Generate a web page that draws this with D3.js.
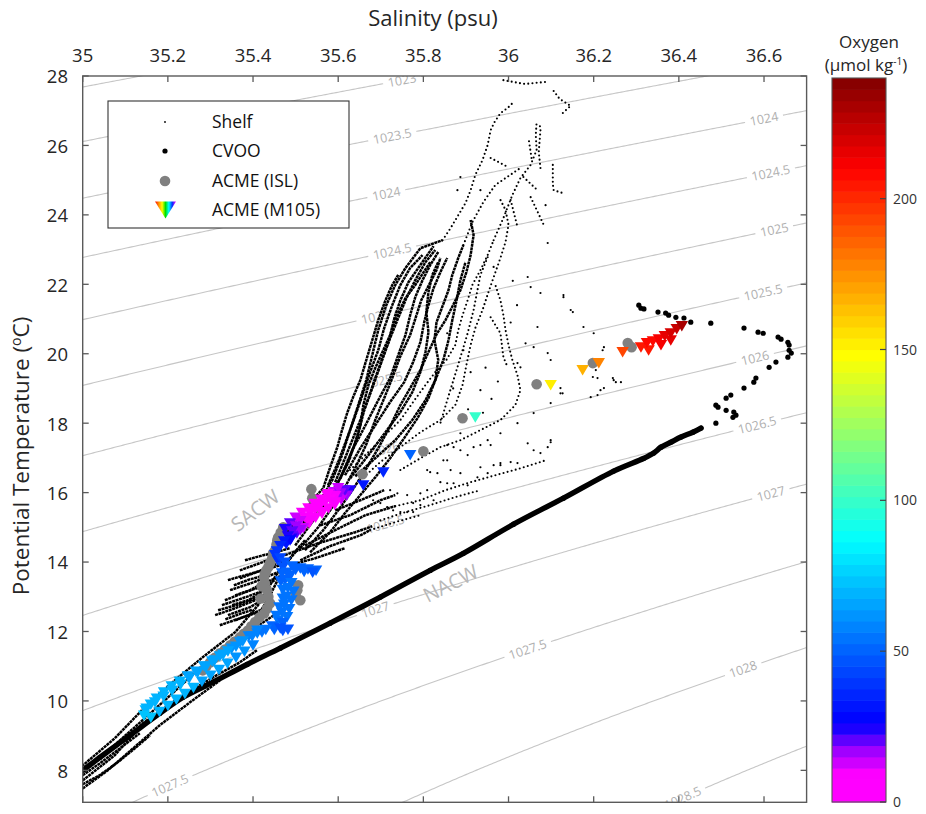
<!DOCTYPE html>
<html><head><meta charset="utf-8">
<script src="https://cdn.jsdelivr.net/npm/d3@7"></script>
<style>
body{margin:0;background:#fff;}
svg text{font-family:"Open Sans",sans-serif;}
</style></head><body>
<svg id="chart" width="926" height="814"></svg>
<script>
// ---------------- data ----------------
const xTicks = [35,35.2,35.4,35.6,35.8,36,36.2,36.4,36.6];
const yTicks = [8,10,12,14,16,18,20,22,24,26,28];
const oxygenTicks = [0,50,100,150,200];
const densityLevels = [1022.5,1023,1023.5,1024,1024.5,1025,1025.5,1026,1026.5,1027,1027.5,1028,1028.5];
// [level, salinity where label sits]
const densityLabels = [[1023,35.75],[1023.5,35.727],[1024,35.713],[1024.5,35.727],[1025,35.687],[1025.5,35.706],
  [1026,35.711],[1026.5,35.711],[1027,35.687],[1027.5,36.045],[1027.5,35.205],[1028,36.551],[1028.5,36.409],
  [1024,36.600],[1024.5,36.616],[1025,36.624],[1025.5,36.598],[1026,36.579],[1026.5,36.584],[1027,36.616]];
const waterMassLabels = [["SACW",35.405,15.49],["NACW",35.864,13.39]];
const legendLabels = ["Shelf","CVOO","ACME (ISL)","ACME (M105)"];

// Shelf profiles, dense parts
const shelfDense = [
 [[35.487,14.63],[35.522,15.20],[35.558,15.78],[35.586,16.36],[35.609,17.08],[35.628,17.80],[35.647,18.52],[35.666,19.24],[35.680,19.96],[35.694,20.68],[35.713,21.40],[35.734,21.98],[35.758,22.47],[35.793,23.04],[35.845,23.27]],
 [[35.499,14.48],[35.539,15.15],[35.572,15.72],[35.600,16.30],[35.624,16.93],[35.645,17.60],[35.661,18.37],[35.680,19.01],[35.699,19.67],[35.718,20.33],[35.732,21.03],[35.746,21.54],[35.765,22.06],[35.788,22.47],[35.824,23.10]],
 [[35.511,14.40],[35.553,15.00],[35.588,15.61],[35.616,16.16],[35.642,16.76],[35.666,17.39],[35.687,18.09],[35.708,18.72],[35.727,19.30],[35.746,19.93],[35.769,20.54],[35.795,21.54],[35.831,22.41],[35.840,22.76]],
 [[35.522,14.34],[35.565,14.92],[35.600,15.49],[35.633,16.07],[35.664,16.65],[35.694,17.28],[35.722,17.91],[35.746,18.52],[35.769,19.01],[35.793,19.53],[35.812,20.05],[35.831,20.56],[35.852,20.97],[35.871,21.43],[35.887,21.83],[35.901,22.35],[35.911,22.84],[35.918,23.42],[35.911,23.85]],
 [[35.534,14.28],[35.581,14.86],[35.616,15.41],[35.652,15.93],[35.687,16.44],[35.722,16.99],[35.755,17.57],[35.786,18.14],[35.812,18.72],[35.828,19.24],[35.835,19.82],[35.826,20.39],[35.831,20.91],[35.845,21.37],[35.859,21.83],[35.868,22.27],[35.882,22.76],[35.894,23.13]],
 [[35.511,14.92],[35.548,15.44],[35.581,15.95],[35.605,16.41],[35.624,16.88],[35.638,17.37],[35.652,17.94],[35.659,18.52],[35.671,19.10],[35.687,19.59],[35.704,20.05],[35.722,20.54],[35.739,21.11],[35.758,21.60],[35.781,21.98],[35.816,22.64]],
 [[35.475,14.77],[35.511,15.35],[35.546,15.87],[35.565,16.13],[35.581,16.73],[35.598,17.31],[35.609,17.80],[35.621,18.29],[35.635,18.75],[35.652,19.24],[35.666,19.82],[35.680,20.39],[35.694,20.97],[35.711,21.54],[35.727,21.98],[35.741,22.27]],
 [[35.605,16.41],[35.633,17.22],[35.664,17.94],[35.694,18.66],[35.722,19.30],[35.741,19.96],[35.758,20.54],[35.769,21.11],[35.781,21.63],[35.798,22.12],[35.816,22.55],[35.835,22.93]],
 [[35.616,16.50],[35.652,17.28],[35.687,17.94],[35.722,18.61],[35.755,19.18],[35.776,19.76],[35.793,20.33],[35.802,20.91],[35.812,21.40],[35.824,21.89],[35.840,22.35],[35.856,22.76]],
 [[35.593,16.30],[35.614,16.93],[35.633,17.51],[35.652,18.09],[35.671,18.72],[35.687,19.30],[35.704,19.88],[35.722,20.45],[35.741,21.03],[35.760,21.60],[35.781,22.12],[35.805,22.64],[35.828,22.99]],
 [[35.628,16.41],[35.671,17.08],[35.711,17.74],[35.746,18.32],[35.774,18.89],[35.793,19.47],[35.805,20.05],[35.812,20.62],[35.807,21.20],[35.812,21.78],[35.821,22.27],[35.835,22.64]],
 [[35.576,16.21],[35.600,16.88],[35.619,17.51],[35.638,18.14],[35.656,18.78],[35.675,19.47],[35.694,20.10],[35.708,20.74],[35.727,21.40],[35.746,21.98],[35.769,22.47],[35.798,22.84]],
 [[35.640,16.47],[35.687,16.99],[35.734,17.51],[35.774,18.09],[35.805,18.66],[35.828,19.24],[35.847,19.82],[35.859,20.39],[35.868,20.97],[35.878,21.54],[35.887,22.12],[35.899,22.64]],
 [[35.511,14.05],[35.581,14.46],[35.652,14.77],[35.675,14.92]],
 [[35.522,14.48],[35.593,14.92],[35.664,15.35],[35.734,15.61]],
 [[35.558,15.06],[35.628,15.35],[35.699,15.78],[35.734,15.93]],
 [[35.487,13.91],[35.546,14.11],[35.616,14.40]],
 [[35.475,14.20],[35.553,14.54],[35.640,14.86],[35.680,15.03]],
 [[35.593,15.49],[35.652,15.78],[35.708,16.07]],
 [[35.334,12.90],[35.381,13.13],[35.428,13.33],[35.452,13.48]],
 [[35.318,12.61],[35.374,12.81],[35.431,13.07]],
 [[35.346,13.19],[35.402,13.42],[35.459,13.71]],
 [[35.358,12.32],[35.405,12.55],[35.428,12.67]],
 [[35.369,13.53],[35.426,13.79],[35.475,14.05]],
 [[35.393,12.03],[35.431,12.32],[35.449,12.47]],
 [[35.369,13.76],[35.421,13.99],[35.445,14.11]],
 [[35.327,12.76],[35.388,13.01],[35.440,13.25]],
 [[35.341,12.47],[35.393,12.70],[35.421,12.90]],
 [[35.311,12.47],[35.358,12.67],[35.405,12.90],[35.440,13.04]],
 [[35.322,12.18],[35.369,12.38],[35.412,12.55]],
 [[35.341,13.48],[35.381,13.62],[35.421,13.76],[35.464,13.91]],
 [[35.358,13.04],[35.393,13.19],[35.428,13.42],[35.475,13.62]],
 [[35.381,14.05],[35.416,14.17],[35.452,14.28],[35.487,14.40]],
 [[35.351,12.76],[35.388,12.90],[35.421,13.13]],
 [[35.335,12.35],[35.372,12.52],[35.398,12.62]],
 [[35.355,13.33],[35.392,13.50],[35.430,13.62]],
 [[35.522,14.63],[35.475,13.91],[35.440,13.04],[35.398,12.18],[35.334,11.52],[35.264,10.82],[35.193,10.02],[35.122,9.24],[35.040,8.35],[35.000,7.94]],
 [[35.511,14.48],[35.454,13.62],[35.412,12.76],[35.358,11.98],[35.287,11.31],[35.216,10.59],[35.146,9.82],[35.075,8.92],[35.000,8.14]],
 [[35.000,7.48],[35.059,8.00],[35.118,8.63],[35.181,9.30],[35.252,9.96],[35.322,10.59]],
 [[35.000,7.71],[35.075,8.43],[35.141,9.35],[35.228,10.10],[35.306,10.68],[35.369,11.11],[35.409,11.46]],
 [[35.000,7.86],[35.040,8.20],[35.087,8.63],[35.134,9.07]],
 [[35.000,7.60],[35.040,7.86],[35.082,8.23],[35.122,8.63],[35.158,9.01]]
];
// Shelf profiles, sparse (dotted) parts
const shelfSparse = [
 [[35.652,16.36],[35.699,16.88],[35.746,17.31],[35.793,17.74],[35.840,18.09],[35.875,18.52],[35.892,19.10],[35.901,19.67],[35.911,20.25],[35.922,20.74],[35.939,21.26],[35.953,21.78],[35.967,22.27],[35.981,22.76],[35.993,23.22],[36.000,23.71],[35.993,24.14],[35.981,24.43]],
 [[35.628,16.65],[35.664,17.08],[35.706,17.60],[35.746,18.09],[35.779,18.66],[35.805,19.10],[35.828,19.47],[35.854,19.82],[35.875,20.25],[35.882,20.68],[35.892,21.11],[35.904,21.54],[35.915,21.98],[35.934,22.41],[35.951,22.84],[35.965,23.27]],
 [[35.746,16.65],[35.793,16.99],[35.840,17.31],[35.887,17.51],[35.934,17.80],[35.981,18.09],[36.016,18.52],[36.028,18.95],[36.021,19.38],[36.009,19.82],[36.000,20.25],[35.993,20.68],[35.988,21.11],[35.981,21.54],[35.969,21.98]],
 [[35.845,23.27],[35.864,23.62],[35.882,23.99],[35.899,24.34],[35.911,24.71],[35.922,25.15],[35.939,25.58],[35.951,26.01],[35.958,26.44],[35.967,26.67],[35.981,26.93],[35.998,27.08],[36.012,27.25]],
 [[35.894,23.13],[35.915,23.79],[35.941,24.37],[35.969,24.86],[35.993,25.06],[36.028,25.35]],
 [[35.965,23.27],[35.988,23.91],[36.009,24.57],[36.028,25.06],[36.052,25.44],[36.066,25.87],[36.064,26.30],[36.066,26.67]],
 [[36.075,25.35],[36.071,25.81],[36.075,26.44],[36.073,26.62]],
 [[36.054,25.64],[36.047,26.21]],
 [[35.988,27.88],[36.038,27.77],[36.087,27.83]],
 [[36.106,27.57],[36.120,27.34],[36.139,27.19],[36.146,27.14],[36.127,26.93]],
 [[36.104,25.44],[36.104,24.89],[36.106,24.71],[36.127,24.63]],
 [[35.958,25.64],[35.998,25.38]],
 [[36.035,25.09],[36.068,24.71]],
 [[36.052,24.51],[36.082,23.73]],
 [[36.005,24.43],[36.021,23.65]],
 [[35.951,22.78],[35.934,22.27],[35.918,21.26],[35.904,20.59],[35.880,19.61],[35.856,18.66],[35.840,18.00]],
 [[35.958,21.05],[35.981,20.59],[35.988,19.90],[35.998,19.61]],
 [[35.734,15.61],[35.793,15.78],[35.852,16.07],[35.911,16.30],[35.969,16.50],[36.028,16.70],[36.087,16.93]],
 [[35.699,15.20],[35.758,15.44],[35.816,15.64],[35.875,15.87],[35.934,16.07]],
 [[35.675,14.92],[35.734,15.15],[35.793,15.35]]
];
const shelfDots = [
 [36.092,23.19],[35.934,24.71],[35.880,24.71],[35.887,25.09],[36.087,24.28],
 [36.021,19.73],[36.028,19.61],[36.045,22.21],[36.052,21.92],[36.075,21.75],[36.129,21.63],[36.146,21.26],[36.176,20.77],[36.200,20.59],[36.224,20.19],
 [36.068,20.77],[36.059,20.19],[36.092,20.02],[36.099,19.82],[36.122,18.86],[36.099,18.58],[36.193,18.75],[36.216,18.95],[36.247,19.24],[36.264,19.18],
 [36.129,21.69],[36.151,21.20],[36.221,20.10],[36.205,19.53],[36.198,19.33],[36.209,19.30],[36.245,19.30],[36.252,19.18],[36.224,19.01],[36.209,18.81],[36.122,19.01],[36.127,18.86],
 [35.981,16.85],[36.075,17.14],[36.099,17.51],[35.918,17.31],[35.951,17.51],[35.981,17.71],[36.021,18.00],[36.059,18.29],[35.887,17.71],[35.871,17.31],[35.856,16.93],
 [35.856,17.37],[35.887,17.22],[35.904,17.08],[35.934,17.37],[35.958,17.37],[36.045,17.42],[36.059,17.22],[36.092,17.31],[36.099,17.45],
 [35.847,16.93],[35.864,16.65],[35.887,16.56],[35.934,16.73],[35.951,16.56],[35.965,16.79],[35.981,16.79],[36.005,16.88],[36.021,16.85],
 [35.809,16.65],[35.816,16.59],[35.833,16.56],[35.840,16.30],[35.856,16.27],[35.871,16.27],[35.904,16.21],[35.927,16.44],
 [35.722,16.07],[35.739,15.98],[35.762,15.93],[35.776,15.70],[35.793,15.98],[35.809,16.07],[35.824,15.78],
 [35.682,15.78],[35.699,15.70],[35.715,15.58],[35.729,15.49],[35.746,15.44],[35.762,15.44],[35.776,15.44],[35.793,15.64],
 [35.856,20.59],[35.894,20.10],[35.911,19.47],[35.934,18.95],[35.946,19.60],[35.960,18.70],[35.870,19.00],[35.905,18.40],
 [35.940,18.30],[35.975,19.20],[36.005,20.90],[36.020,21.40],[35.965,22.50],[36.010,22.10],[36.040,20.30]
];
// CVOO: deep continuous part and upper scattered part
const cvooDeep = [[36.452,17.86],[36.433,17.74],[36.405,17.60],[36.381,17.45],[36.358,17.31],[36.341,17.14],[36.318,16.99],[36.247,16.62],[36.129,15.84],[36.012,15.09],[35.894,14.25],[35.816,13.76],[35.699,12.99],[35.581,12.24],[35.464,11.52],[35.386,11.05],[35.306,10.54],[35.235,10.10],[35.181,9.64],[35.111,9.01],[35.040,8.37],[35.000,8.00]];
const cvooUpper = [[36.487,18.00],[36.527,18.17],[36.534,18.23],[36.529,18.32],[36.511,18.37],[36.492,18.46],[36.487,18.52],[36.511,18.72],[36.522,18.81],[36.553,19.01],[36.576,19.18],[36.581,19.30],[36.612,19.61],[36.628,19.76],[36.656,19.90],[36.664,20.02],[36.659,20.10],[36.659,20.25],[36.656,20.33],[36.640,20.42],[36.633,20.48],[36.598,20.59],[36.586,20.62],[36.553,20.74],[36.475,20.88],[36.428,20.91],[36.412,21.03],[36.393,21.05],[36.376,21.11],[36.369,21.17],[36.351,21.20],[36.318,21.29],[36.311,21.31],[36.306,21.40]];
// ACME ISL
const acmeIsl = [[36.280,20.31],[36.289,20.19],[36.198,19.73],[36.066,19.12],[35.892,18.14],[35.800,17.19],[35.657,16.53],[35.537,16.10],[35.539,15.84],
 [35.471,15.00],[35.465,14.85],[35.459,14.71],[35.457,14.63],[35.455,14.50],[35.452,14.34],[35.447,14.25],[35.445,14.10],[35.440,13.97],[35.436,13.86],[35.431,13.76],[35.428,13.66],[35.426,13.56],[35.428,13.38],[35.433,13.19],[35.436,13.00],[35.440,12.81],[35.433,12.66],[35.426,12.52],[35.415,12.40],[35.405,12.27],[35.396,12.15],[35.388,12.03],[35.378,11.93],[35.369,11.83],[35.357,11.71],[35.346,11.60],[35.334,11.48],[35.322,11.37],[35.310,11.24],[35.299,11.11],[35.290,10.99],[35.282,10.88],
 [35.504,13.19],[35.511,12.90],[35.506,13.33],[35.500,13.05],[35.420,13.30],[35.418,12.95]];
// ACME M105 [salinity, theta, oxygen]
const acmeM105 = [
 [36.174,19.53,167],[36.212,19.73,179],[36.268,20.05,194],
 [36.311,20.19,205],[36.329,20.10,206],[36.325,20.31,207],[36.339,20.36,209],[36.358,20.25,210],[36.353,20.42,212],[36.381,20.39,214],[36.367,20.51,215],[36.381,20.59,219],[36.395,20.71,224],[36.407,20.80,230],
 [36.099,19.10,150],[35.922,18.17,98],[35.769,17.08,52],[35.706,16.59,36],[35.659,16.21,32],[35.628,16.07,24],
 [35.590,16.02,12],[35.575,15.90,7],[35.560,15.80,3],[35.545,15.68,3],[35.530,15.55,6],[35.515,15.42,10],[35.500,15.28,14],[35.487,15.12,20],[35.475,14.95,26],
 [35.620,15.92,18],[35.607,15.80,12],[35.592,15.65,8],[35.577,15.55,4],[35.562,15.40,4],[35.547,15.28,6],[35.532,15.12,10],[35.518,14.98,14],[35.503,14.83,20],[35.490,14.68,26],[35.478,14.52,32],
 [35.616,16.07,20],[35.605,15.98,15],[35.600,16.13,12],[35.593,15.90,10],[35.576,15.96,6],[35.581,15.81,5],[35.593,15.72,8],[35.569,15.72,3],[35.558,15.64,2],[35.562,15.44,4],[35.546,15.52,3],[35.534,15.41,5],[35.534,15.20,10],[35.522,15.29,8],[35.511,15.18,12],[35.501,15.03,16],[35.511,14.92,18],[35.492,14.89,20],[35.482,14.74,25],[35.487,14.63,28],[35.473,14.60,30],[35.464,14.46,35],[35.456,14.31,40],
 [35.452,14.20,38],[35.458,14.05,40],[35.464,14.11,42],[35.475,13.99,45],[35.470,13.85,47],[35.492,13.88,50],[35.511,13.82,52],[35.529,13.79,52],[35.548,13.76,50],[35.500,13.78,52],[35.520,13.72,50],[35.540,13.70,48],
 [35.480,13.70,50],[35.468,13.68,50],[35.487,13.60,52],[35.465,13.45,50],[35.475,13.48,52],[35.490,13.40,54],[35.470,13.20,53],[35.482,13.25,55],[35.495,13.15,55],[35.470,12.95,55],[35.478,13.01,55],[35.490,12.90,56],
 [35.462,12.70,54],[35.473,12.78,55],[35.485,12.65,56],[35.455,12.45,55],[35.468,12.55,55],[35.480,12.42,55],[35.459,12.32,54],[35.470,12.25,52],[35.445,12.15,50],[35.450,12.05,50],[35.464,12.09,48],[35.470,12.02,47],[35.482,12.06,46],
 [35.430,12.05,55],[35.410,11.95,57],[35.421,11.98,55],
 [35.150,9.78,71],[35.170,9.96,70],[35.190,10.13,69],[35.210,10.30,68],[35.230,10.47,68],[35.250,10.65,67],[35.270,10.82,67],[35.290,10.99,66],[35.310,11.17,65],[35.330,11.34,64],[35.350,11.51,63],[35.370,11.69,61],[35.390,11.86,59],[35.410,12.03,57],
 [35.160,9.52,72],[35.180,9.69,71],[35.200,9.86,70],[35.220,10.04,69],[35.240,10.21,68],[35.260,10.38,68],[35.280,10.56,67],[35.300,10.73,66],[35.320,10.90,65],[35.340,11.08,64],[35.360,11.25,62],[35.380,11.42,60],[35.400,11.60,58],
 [35.398,11.86,58],[35.376,11.72,60],[35.360,11.57,62],[35.341,11.43,64],[35.322,11.29,65],[35.304,11.14,66],[35.285,11.00,66],[35.266,10.85,67],[35.247,10.71,67],[35.228,10.56,68],[35.209,10.42,68],[35.191,10.25,69],[35.174,10.07,70],[35.160,9.90,70],[35.148,9.73,71],[35.144,9.58,72]
];

// ---------------- helpers ----------------
function rho(S,T){ // UNESCO EOS-80, surface pressure
  const rw = 999.842594 + 6.793952e-2*T - 9.095290e-3*T*T + 1.001685e-4*T**3 - 1.120083e-6*T**4 + 6.536332e-9*T**5;
  const A = 8.24493e-1 - 4.0899e-3*T + 7.6438e-5*T*T - 8.2467e-7*T**3 + 5.3875e-9*T**4;
  const B = -5.72466e-3 + 1.0227e-4*T - 1.6546e-6*T*T;
  const C = 4.8314e-4;
  return rw + A*S + B*Math.pow(S,1.5) + C*S*S;
}
function solveT(level,S){ let lo=-2, hi=40;
  for(let i=0;i<50;i++){ const m=(lo+hi)/2; if(rho(S,m)>level) lo=m; else hi=m; }
  return (lo+hi)/2; }

const svg = d3.select('#chart');
const P = {left:82.7, right:806.6, top:76, bottom:802.3};
const x = d3.scaleLinear().domain([35,36.7]).range([P.left,P.right]);
const y = d3.scaleLinear().domain([7.08,28]).range([P.bottom,P.top]);
const cmap = d3.scaleLinear()
  .domain([0,9,17,24,27,87,148,210,240])
  .range(['#ff00ff','#ff00ff','#a000ff','#2000ff','#0000ff','#00ffff','#ffff00','#ff0000','#800000'])
  .clamp(true);
const band = 240/64;
const oxyColor = v => cmap(Math.min(63,Math.floor(v/band))*band + band/2);

const defs = svg.append('defs');
defs.append('clipPath').attr('id','plotClip').append('rect')
  .attr('x',P.left).attr('y',P.top).attr('width',P.right-P.left).attr('height',P.bottom-P.top);
const grad = defs.append('linearGradient').attr('id','rainbow').attr('x1','0').attr('x2','1').attr('y1','0').attr('y2','0');
[['0','#ff0000'],['0.18','#ff9000'],['0.34','#ffff00'],['0.5','#00e000'],['0.66','#00ffff'],['0.82','#0030ff'],['1','#ff00ff']]
  .forEach(([o,c])=>grad.append('stop').attr('offset',o).attr('stop-color',c));

const gPlot = svg.append('g').attr('clip-path','url(#plotClip)');

// isopycnals
const sGrid = d3.range(34.95, 36.76, 0.005);
const line = d3.line().x(d=>x(d[0])).y(d=>y(d[1]));
densityLevels.forEach(lev=>{
  gPlot.append('path').attr('d', line(sGrid.map(s=>[s, solveT(lev,s)])))
    .attr('fill','none').attr('stroke','#c6c6c6').attr('stroke-width',1.1);
});
// isopycnal labels
densityLabels.forEach(([lev,s])=>{
  const t=solveT(lev,s), px=x(s), py=y(t);
  const t2=solveT(lev,s+0.01);
  const ang=Math.atan2(y(t2)-py, x(s+0.01)-px)*180/Math.PI;
  const g=gPlot.append('g').attr('transform',`translate(${px},${py}) rotate(${ang})`);
  const txt=g.append('text').text(lev).attr('text-anchor','middle').attr('dy','0.36em')
    .attr('font-size',12.5).attr('fill','#b0b0b0');
  const w=txt.node().getComputedTextLength();
  g.insert('rect','text').attr('x',-w/2-5).attr('y',-6).attr('width',w+10).attr('height',12).attr('fill','#fff');
});
// water mass labels
waterMassLabels.forEach(([lab,s,t],i)=>{
  gPlot.append('text').text(lab)
    .attr('transform',`translate(${x(s)},${y(t)}) rotate(${i===0?-37:-27})`)
    .attr('text-anchor','middle').attr('dy','0.36em').attr('font-size',20).attr('fill','#b8b8b8');
});

// shelf
const gShelf = gPlot.append('g');
shelfDense.forEach(tr=>gShelf.append('path').attr('d',line(tr)).attr('fill','none')
  .attr('stroke','#000').attr('stroke-width',2.5).attr('stroke-dasharray','3 0.6'));
shelfSparse.forEach(tr=>gShelf.append('path').attr('d',line(tr)).attr('fill','none')
  .attr('stroke','#000').attr('stroke-width',2.1).attr('stroke-linecap','round').attr('stroke-dasharray','0 4.2'));
gShelf.selectAll('circle').data(shelfDots).join('circle')
  .attr('cx',d=>x(d[0])).attr('cy',d=>y(d[1])).attr('r',1.1).attr('fill','#000');

// CVOO
const smooth = d3.line().x(d=>x(d[0])).y(d=>y(d[1])).curve(d3.curveCatmullRom);
gPlot.append('path').attr('d',smooth(cvooDeep)).attr('fill','none').attr('stroke','#000')
  .attr('stroke-width',5.4).attr('stroke-linecap','round').attr('stroke-linejoin','round');
gPlot.append('g').selectAll('circle').data(cvooDeep.concat(cvooUpper)).join('circle')
  .attr('cx',d=>x(d[0])).attr('cy',d=>y(d[1])).attr('r',2.6).attr('fill','#000');

// ACME ISL
gPlot.append('g').selectAll('circle').data(acmeIsl).join('circle')
  .attr('cx',d=>x(d[0])).attr('cy',d=>y(d[1])).attr('r',5.3).attr('fill','#808080');

// ACME M105
const tri = 'M-6.2,-5L6.2,-5L0,5.5Z';
gPlot.append('g').selectAll('path').data(acmeM105).join('path')
  .attr('d',tri).attr('transform',d=>`translate(${x(d[0])},${y(d[1])})`)
  .attr('fill',d=>oxyColor(d[2]));

// frame + ticks
const axisCol = '#5a5a5a';
svg.append('rect').attr('x',P.left).attr('y',P.top).attr('width',P.right-P.left).attr('height',P.bottom-P.top)
  .attr('fill','none').attr('stroke',axisCol).attr('stroke-width',1.4);
const gT = svg.append('g').attr('stroke',axisCol).attr('stroke-width',1.3);
xTicks.forEach(v=>{
  gT.append('line').attr('x1',x(v)).attr('x2',x(v)).attr('y1',P.top).attr('y2',P.top+6);
  gT.append('line').attr('x1',x(v)).attr('x2',x(v)).attr('y1',P.bottom).attr('y2',P.bottom-6);
});
yTicks.forEach(v=>{
  gT.append('line').attr('x1',P.left).attr('x2',P.left+6).attr('y1',y(v)).attr('y2',y(v));
  gT.append('line').attr('x1',P.right).attr('x2',P.right-6).attr('y1',y(v)).attr('y2',y(v));
});
svg.append('g').selectAll('text').data(xTicks).join('text')
  .attr('x',d=>x(d)).attr('y',62).attr('text-anchor','middle').attr('font-size',18.5).attr('fill','#262626')
  .text(d=>d3.format('~g')(d));
svg.append('g').selectAll('text').data(yTicks).join('text')
  .attr('x',68).attr('y',d=>y(d)).attr('dy','0.4em').attr('text-anchor','end').attr('font-size',18.5).attr('fill','#262626')
  .text(d=>d);
svg.append('text').attr('x',433).attr('y',26).attr('text-anchor','middle').attr('font-size',22).attr('fill','#262626')
  .text('Salinity (psu)');
const yt = svg.append('text').attr('transform','translate(29,456) rotate(-90)').attr('text-anchor','middle')
  .attr('font-size',22.5).attr('fill','#262626');
yt.append('tspan').text('Potential Temperature (');
yt.append('tspan').text('o').attr('font-size',14).attr('dy',-8);
yt.append('tspan').text('C)').attr('dy',8);

// legend
const L = {x:108, y:101, w:241, h:127};
const gL = svg.append('g');
gL.append('rect').attr('x',L.x).attr('y',L.y).attr('width',L.w).attr('height',L.h)
  .attr('fill','#fff').attr('stroke','#333').attr('stroke-width',1.1);
const rowsY = [122,151,181,210];
legendLabels.forEach((lab,i)=>{
  gL.append('text').attr('x',212).attr('y',rowsY[i]).attr('dy','0.36em').attr('font-size',17.5).attr('fill','#111').text(lab);
});
gL.append('circle').attr('cx',165).attr('cy',rowsY[0]).attr('r',0.9).attr('fill','#000');
gL.append('circle').attr('cx',165).attr('cy',rowsY[1]).attr('r',2.6).attr('fill','#000');
gL.append('circle').attr('cx',165).attr('cy',rowsY[2]).attr('r',5.3).attr('fill','#808080');
gL.append('path').attr('d','M-10.5,-8.5L10.5,-8.5L0,8.5Z').attr('transform',`translate(165.5,${rowsY[3]})`)
  .attr('fill','url(#rainbow)');

// colorbar
const CB = {x:832, w:54};
const cy = d3.scaleLinear().domain([0,240]).range([802,78]);
const gC = svg.append('g');
gC.selectAll('rect').data(d3.range(64)).join('rect')
  .attr('x',CB.x).attr('width',CB.w)
  .attr('y',i=>cy((i+1)*band)).attr('height',i=>cy(i*band)-cy((i+1)*band)+0.6)
  .attr('fill',i=>cmap(i*band+band/2));
gC.append('rect').attr('x',CB.x).attr('y',78).attr('width',CB.w).attr('height',724)
  .attr('fill','none').attr('stroke','#555').attr('stroke-width',1.1);
oxygenTicks.forEach(v=>{
  gC.append('line').attr('x1',CB.x+CB.w-6).attr('x2',CB.x+CB.w).attr('y1',cy(v)).attr('y2',cy(v))
    .attr('stroke','#444').attr('stroke-width',1.2);
});
gC.selectAll('text.cb').data(oxygenTicks).join('text').attr('class','cb')
  .attr('x',893).attr('y',d=>cy(d)).attr('dy','0.36em').attr('font-size',14)
  .attr('font-family','"DejaVu Sans",sans-serif').attr('fill','#333').text(d=>d);
svg.append('text').attr('x',869).attr('y',48).attr('text-anchor','middle').attr('font-size',17).attr('fill','#262626').text('Oxygen');
const ut = svg.append('text').attr('x',866).attr('y',71).attr('text-anchor','middle').attr('font-size',17).attr('fill','#262626');
ut.append('tspan').text('(µmol kg');
ut.append('tspan').text('-1').attr('font-size',10).attr('dy',-6);
ut.append('tspan').text(')').attr('dy',6);
</script>
</body></html>
